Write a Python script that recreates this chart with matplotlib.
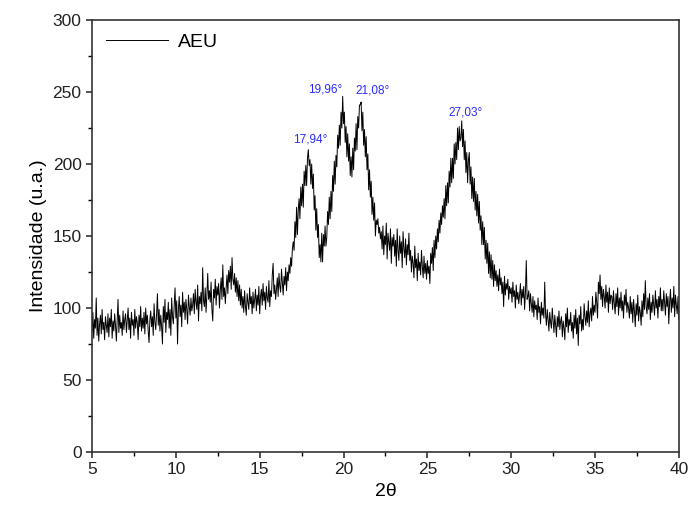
import numpy as np
import matplotlib.pyplot as plt
from matplotlib.ticker import MultipleLocator

plt.rcParams['font.family'] = ['Liberation Sans', 'DejaVu Sans']

# diffractogram, 0.05 deg steps from 5 to 40 (one row per degree)
two_theta_start = 5.0
two_theta_step = 0.05
intensity = [
    84, 97, 79, 92, 86, 107, 81, 93, 77, 89, 95, 82, 99, 85, 90, 78, 94, 88, 83, 96,
    80, 93, 87, 99, 79, 91, 84, 96, 88, 77, 92, 106, 83, 95, 86, 90, 81, 98, 85, 92,
    96, 83, 91, 100, 85, 93, 79, 97, 88, 92, 81, 99, 86, 94, 90, 78, 95, 87, 101, 84,
    93, 86, 97, 82, 100, 89, 95, 84, 76, 92, 98, 87, 94, 81, 103, 90, 85, 96, 110, 88,
    99, 84, 95, 87, 75, 101, 90, 106, 83, 97, 92, 104, 86, 99, 81, 107, 94, 89, 102, 114,
    93, 105, 75, 99, 108, 94, 102, 87, 111, 97, 104, 92, 106, 99, 89, 109, 101, 95, 107, 98,
    102, 110, 96, 113, 104, 99, 116, 91, 108, 103, 111, 98, 128, 105, 101, 114, 97, 109, 124, 106,
    112, 104, 118, 99, 91, 113, 107, 120, 102, 115, 109, 117, 100, 112, 121, 106, 130, 108, 114, 103,
    114, 123, 110, 126, 118, 129, 113, 135, 120, 116, 124, 111, 121, 108, 119, 105, 116, 102, 113, 100,
    108, 97, 112, 101, 95, 110, 104, 99, 114, 103, 108, 96, 111, 100, 106, 113, 98, 109, 102, 115,
    96, 108, 113, 102, 117, 105, 111, 99, 115, 107, 104, 119, 101, 112, 108, 123, 131, 110, 116, 106,
    113, 121, 108, 124, 115, 111, 127, 118, 109, 122, 116, 128, 112, 125, 119, 130, 124, 135, 129, 141,
    146, 140, 160, 149, 170, 151, 168, 176, 162, 184, 171, 186, 170, 195, 185, 199, 185, 204, 210, 199,
    203, 186, 200, 183, 193, 168, 178, 154, 169, 149, 158, 135, 144, 132, 152, 132, 151, 143, 157, 143,
    149, 167, 158, 177, 162, 181, 167, 192, 181, 202, 186, 206, 198, 220, 211, 227, 213, 236, 225, 247,
    228, 236, 215, 226, 205, 221, 202, 214, 192, 205, 191, 211, 196, 218, 209, 228, 210, 233, 225, 241,
    241, 243, 223, 236, 213, 224, 205, 219, 196, 207, 182, 196, 177, 188, 165, 177, 161, 173, 150, 161,
    158, 162, 152, 156, 148, 153, 141, 157, 137, 150, 144, 159, 134, 152, 146, 140, 155, 131, 149, 143,
    151, 136, 147, 129, 155, 140, 133, 150, 138, 146, 128, 153, 141, 135, 148, 130, 144, 137, 152, 133,
    140, 125, 136, 131, 121, 143, 128, 134, 119, 138, 126, 132, 123, 140, 129, 121, 136, 124, 131, 120,
    133, 124, 129, 117, 138, 131, 142, 126, 147, 135, 150, 141, 155, 146, 161, 152, 166, 158, 171, 163,
    176, 162, 185, 171, 187, 173, 195, 184, 204, 187, 204, 190, 214, 200, 215, 203, 225, 210, 226, 216,
    218, 230, 212, 224, 203, 216, 194, 208, 187, 203, 208, 186, 198, 176, 191, 174, 190, 168, 181, 164,
    179, 159, 174, 154, 164, 144, 160, 144, 156, 134, 147, 131, 145, 124, 139, 121, 137, 120, 133, 115,
    130, 119, 126, 115, 123, 112, 127, 116, 121, 110, 118, 101, 122, 109, 117, 113, 120, 106, 115, 110,
    114, 104, 118, 108, 112, 100, 116, 106, 111, 103, 109, 117, 102, 113, 107, 115, 99, 111, 133, 106,
    108, 112, 98, 110, 103, 97, 108, 94, 105, 99, 102, 92, 107, 97, 101, 89, 104, 95, 100, 93,
    118, 96, 88, 99, 92, 84, 97, 90, 86, 100, 91, 83, 95, 88, 80, 94, 87, 98, 85, 91,
    94, 80, 91, 86, 78, 96, 87, 100, 83, 92, 88, 97, 84, 90, 79, 95, 86, 99, 82, 93,
    74, 95, 89, 101, 84, 92, 85, 103, 94, 88, 98, 90, 105, 87, 96, 100, 91, 108, 95, 102,
    97, 111, 104, 93, 118, 110, 123, 106, 115, 101, 113, 108, 100, 116, 104, 111, 97, 114, 103, 109,
    108, 99, 112, 103, 96, 110, 101, 114, 95, 107, 100, 111, 98, 105, 93, 109, 102, 113, 97, 104,
    100, 93, 108, 96, 104, 90, 106, 98, 87, 103, 95, 109, 91, 101, 97, 88, 105, 94, 110, 99,
    119, 101, 96, 107, 99, 110, 92, 104, 97, 109, 102, 95, 112, 100, 106, 93, 108, 101, 114, 98,
    106, 98, 112, 103, 95, 110, 101, 108, 89, 104, 113, 97, 107, 100, 115, 94, 109, 102, 96, 108,
    92,
]

# peak labels: text, x, y of the label
peak_labels = ["17,94°", "19,96°", "21,08°", "27,03°"]
peak_label_x = [18.0, 18.9, 21.75, 27.25]
peak_label_y = [217, 252, 251, 236]

two_theta = two_theta_start + two_theta_step * np.arange(len(intensity))

fig = plt.figure(figsize=(6.92, 5.19), dpi=100)
ax = fig.add_axes([0.133, 0.129, 0.848, 0.8325])

ax.plot(two_theta, intensity, "-", color="black", lw=0.7, label="AEU")

for txt, px, py in zip(peak_labels, peak_label_x, peak_label_y):
    ax.text(px, py, txt, color="#2a2aff", fontsize=8.5, ha="center", va="center")

ax.set_xlim(5, 40)
ax.set_ylim(0, 300)
ax.xaxis.set_major_locator(MultipleLocator(5))
ax.xaxis.set_minor_locator(MultipleLocator(2.5))
ax.yaxis.set_major_locator(MultipleLocator(50))
ax.yaxis.set_minor_locator(MultipleLocator(25))
ax.tick_params(which="major", direction="out", length=4, width=1.1, labelsize=12.5,
               colors="#222222")
ax.tick_params(which="minor", direction="out", length=3, width=1.0)
for s in ax.spines.values():
    s.set_linewidth(1.2)
    s.set_color("#333333")

ax.set_xlabel("2θ", fontsize=14)
ax.set_ylabel("Intensidade (u.a.)", fontsize=14)

ax.legend(loc="upper left", frameon=False, fontsize=14, handlelength=3.2,
          handletextpad=0.5, borderaxespad=0.3)

plt.savefig("out.png", dpi=100)
